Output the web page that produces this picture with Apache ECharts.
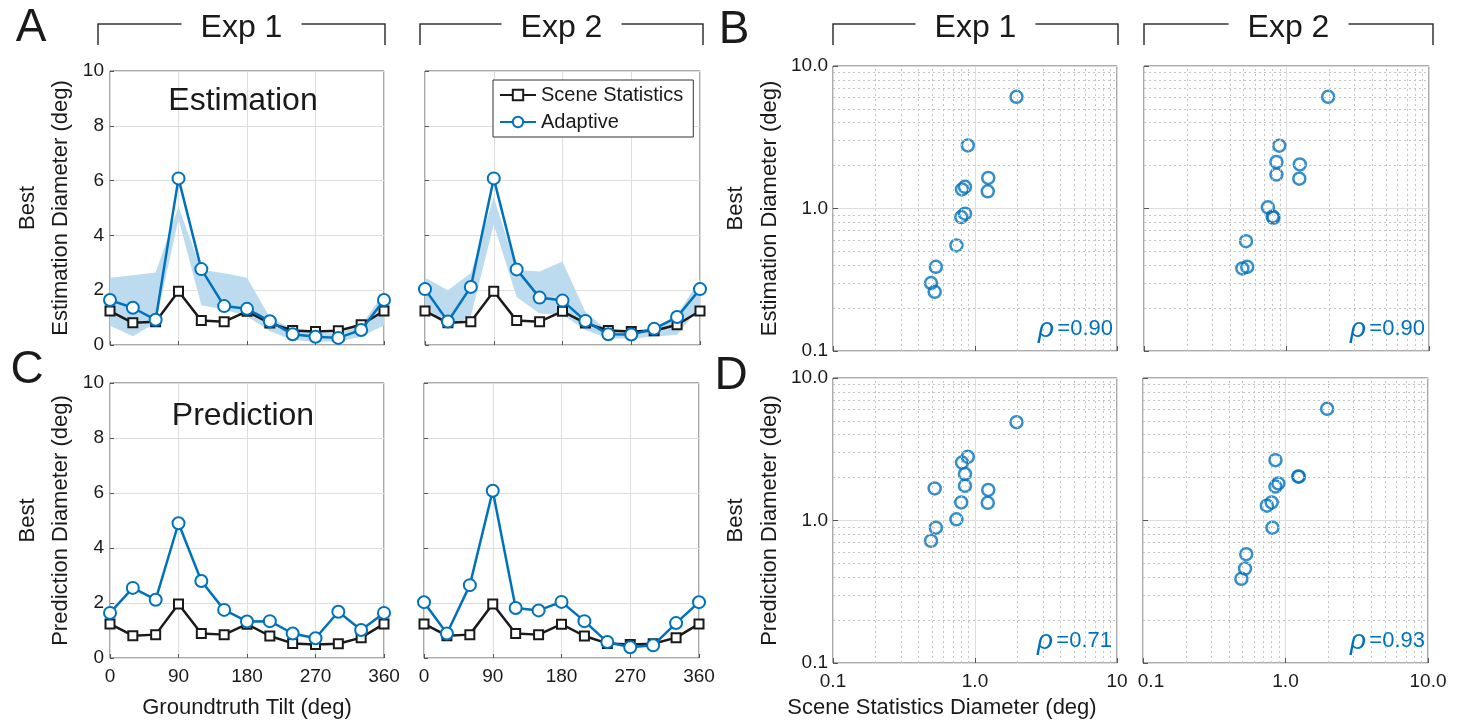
<!DOCTYPE html>
<html><head><meta charset="utf-8">
<script src="https://cdn.jsdelivr.net/npm/echarts@6/dist/echarts.min.js"></script>
<style>html,body{margin:0;padding:0;background:#fff}#c{width:1468px;height:723px}</style>
</head><body><div id="c"></div>
<script>
// ---------------- data ----------------
const tilts = [0, 30, 60, 90, 120, 150, 180, 210, 240, 270, 300, 330, 360];
const sceneStats    = [1.24, 0.81, 0.85, 1.96, 0.89, 0.85, 1.23, 0.80, 0.53, 0.49, 0.52, 0.74, 1.24];
const adaptEstExp1  = [1.64, 1.36, 0.92, 6.08, 2.77, 1.42, 1.32, 0.87, 0.39, 0.30, 0.26, 0.55, 1.64];
const adaptEstExp2  = [2.04, 0.86, 2.12, 6.08, 2.76, 1.73, 1.62, 0.88, 0.39, 0.38, 0.59, 1.02, 2.04];
const adaptPredExp1 = [1.64, 2.55, 2.12, 4.90, 2.80, 1.75, 1.33, 1.34, 0.89, 0.72, 1.68, 1.02, 1.64];
const adaptPredExp2 = [2.03, 0.89, 2.65, 6.08, 1.82, 1.73, 2.04, 1.34, 0.58, 0.39, 0.46, 1.27, 2.03];
const bandEstExp1Low  = [0.70, 0.32, 0.80, 4.60, 1.45, 1.30, 1.05, 0.50, 0.18, 0.12, 0.13, 0.30, 0.72];
const bandEstExp1High = [2.45, 2.55, 2.65, 5.05, 2.75, 2.62, 2.45, 1.00, 0.58, 0.45, 0.42, 0.72, 1.90];
const bandEstExp2Low  = [1.35, 0.62, 1.05, 4.40, 1.75, 1.15, 1.10, 0.55, 0.24, 0.24, 0.30, 0.37, 1.40];
const bandEstExp2High = [2.45, 2.00, 2.62, 5.40, 2.74, 2.68, 3.05, 1.20, 0.50, 0.52, 0.62, 1.10, 2.38];
const rhoLabels = ['0.90', '0.90', '0.71', '0.93'];
const linearXTicks = [0, 90, 180, 270, 360];
const logYLabels = ['0.1', '1.0', '10.0'];
const logXLabelsExp1 = ['0.1', '1.0', '10'];
const logXLabelsExp2 = ['0.1', '1.0', '10.0'];
const logMinorTicks = [0.2, 0.3, 0.4, 0.5, 0.6, 0.7, 0.8, 0.9, 2, 3, 4, 5, 6, 7, 8, 9];

// ---------------- style ----------------
const FONT = "'Liberation Sans', Arial, Helvetica, sans-serif";
const BLUE = '#0072BD';
const BAND = '#bddbef';
const INK = '#1a1a1a';
const GRIDC = '#dedede';

const grids = [
  {left: 110, top: 71, width: 274, height: 274},   // A exp1
  {left: 425, top: 71, width: 275, height: 274},   // A exp2
  {left: 110, top: 383, width: 274, height: 275},  // C exp1
  {left: 424, top: 383, width: 275, height: 275},  // C exp2
  {left: 833, top: 66, width: 284, height: 285},   // B exp1
  {left: 1144, top: 66, width: 285, height: 285},  // B exp2
  {left: 833, top: 378, width: 284, height: 285},  // D exp1
  {left: 1143, top: 378, width: 285, height: 285}  // D exp2
].map(g => Object.assign({show: true, borderColor: '#555', borderWidth: 1, backgroundColor: 'transparent', containLabel: false}, g));

const xAxes = [], yAxes = [], series = [];

const linePanels = [
  {g: 0, adapt: adaptEstExp1, lo: bandEstExp1Low, hi: bandEstExp1High, xl: false, yl: true, yname: 'Best\nEstimation Diameter (deg)'},
  {g: 1, adapt: adaptEstExp2, lo: bandEstExp2Low, hi: bandEstExp2High, xl: false, yl: false},
  {g: 2, adapt: adaptPredExp1, xl: true, yl: true, yname: 'Best\nPrediction Diameter (deg)'},
  {g: 3, adapt: adaptPredExp2, xl: true, yl: false}
];

function bandRenderer(lo, hi) {
  return function (params, api) {
    if (params.dataIndex !== 0) return null;
    const up = tilts.map((t, i) => api.coord([t, hi[i]]));
    const dn = tilts.map((t, i) => api.coord([t, lo[i]])).reverse();
    return {type: 'polygon', shape: {points: up.concat(dn)}, style: {fill: BAND}, silent: true};
  };
}

linePanels.forEach(p => {
  xAxes[p.g] = {
    type: 'value', gridIndex: p.g, min: 0, max: 360, interval: 90,
    axisLine: {show: false},
    axisTick: {show: true, inside: true, length: 4, lineStyle: {color: '#555'}},
    axisLabel: {show: p.xl, fontSize: 19, color: INK, fontFamily: FONT, margin: 9,
      formatter: v => linearXTicks.includes(v) ? String(v) : ''},
    splitLine: {show: true, lineStyle: {color: GRIDC, width: 1}}
  };
  yAxes[p.g] = {
    type: 'value', gridIndex: p.g, min: 0, max: 10, interval: 2,
    axisLine: {show: false},
    axisTick: {show: true, inside: true, length: 4, lineStyle: {color: '#555'}},
    axisLabel: {show: p.yl, fontSize: 19, color: INK, fontFamily: FONT, margin: 6},
    splitLine: {show: true, lineStyle: {color: GRIDC, width: 1}},
    name: p.yname || '', nameLocation: 'middle', nameRotate: 90, nameGap: 33,
    nameTextStyle: {fontSize: 22, color: INK, fontFamily: FONT, lineHeight: 33, align: 'center'}
  };
  if (p.lo) {
    series.push({
      type: 'custom', name: 'band-' + p.g, xAxisIndex: p.g, yAxisIndex: p.g,
      data: tilts.map((t, i) => [t, p.lo[i], p.hi[i]]),
      encode: {x: 0, y: [1, 2]},
      renderItem: bandRenderer(p.lo, p.hi), silent: true, z: 1
    });
  }
  series.push({
    type: 'line', name: 'Scene Statistics', xAxisIndex: p.g, yAxisIndex: p.g,
    data: tilts.map((t, i) => [t, sceneStats[i]]), clip: false,
    symbol: 'rect', symbolSize: 9,
    lineStyle: {color: INK, width: 2.5},
    itemStyle: {color: '#fff', borderColor: INK, borderWidth: 2}, z: 3
  });
  series.push({
    type: 'line', name: 'Adaptive', xAxisIndex: p.g, yAxisIndex: p.g,
    data: tilts.map((t, i) => [t, p.adapt[i]]), clip: false,
    symbol: 'circle', symbolSize: 12,
    lineStyle: {color: BLUE, width: 2.5},
    itemStyle: {color: '#fff', borderColor: BLUE, borderWidth: 2}, z: 4
  });
});

const scatterPanels = [
  {g: 4, y: adaptEstExp1, xl: null, yl: true, yname: 'Best\nEstimation Diameter (deg)'},
  {g: 5, y: adaptEstExp2, xl: null, yl: false},
  {g: 6, y: adaptPredExp1, xl: logXLabelsExp1, yl: true, yname: 'Best\nPrediction Diameter (deg)'},
  {g: 7, y: adaptPredExp2, xl: logXLabelsExp2, yl: false, shiftFirst: true}
];
const logIdx = v => Math.round(Math.log10(v)) + 1;

scatterPanels.forEach(p => {
  xAxes[p.g] = {
    type: 'log', logBase: 10, gridIndex: p.g, min: 0.1, max: 10,
    axisLine: {show: false},
    axisTick: {show: true, inside: true, length: 5, lineStyle: {color: '#555'}},
    axisLabel: {show: !!p.xl, fontSize: 19, color: INK, fontFamily: FONT, margin: 9,
      formatter: v => {
        if (!p.xl) return '';
        const k = logIdx(v);
        const s = p.xl[k] || '';
        return (p.shiftFirst && k === 0) ? '{s|' + s + '}' : s;
      },
      rich: {s: {fontSize: 19, color: INK, fontFamily: FONT, padding: [0, 0, 0, 16]}}},
    splitLine: {show: true, lineStyle: {color: GRIDC, width: 1}}
  };
  yAxes[p.g] = {
    type: 'log', logBase: 10, gridIndex: p.g, min: 0.1, max: 10,
    axisLine: {show: false},
    axisTick: {show: true, inside: true, length: 5, lineStyle: {color: '#555'}},
    axisLabel: {show: p.yl, fontSize: 19, color: INK, fontFamily: FONT, margin: 5,
      formatter: v => logYLabels[logIdx(v)] || ''},
    splitLine: {show: true, lineStyle: {color: GRIDC, width: 1}},
    name: p.yname || '', nameLocation: 'middle', nameRotate: 90, nameGap: 46,
    nameTextStyle: {fontSize: 22, color: INK, fontFamily: FONT, lineHeight: 34, align: 'center'}
  };
  const pts = [];
  for (let i = 0; i < 12; i++) pts.push([sceneStats[i], p.y[i]]);
  series.push({
    type: 'scatter', name: 'scatter-' + p.g, xAxisIndex: p.g, yAxisIndex: p.g,
    data: pts, symbol: 'circle', symbolSize: 12,
    itemStyle: {color: 'rgba(0,0,0,0)', borderColor: BLUE, borderWidth: 2.5}, z: 4,
    markLine: {
      silent: true, symbol: ['none', 'none'], label: {show: false}, animation: false,
      lineStyle: {color: '#c4c4c4', type: [2, 3], width: 1},
      emphasis: {disabled: true},
      data: logMinorTicks.map(v => ({xAxis: v})).concat(logMinorTicks.map(v => ({yAxis: v})))
    }
  });
});

// ---------------- decorations ----------------
const graphic = [];
function txt(x, y, text, size, opts) {
  graphic.push({
    type: 'text', x: x, y: y, silent: true, z: 100,
    style: Object.assign({text: text, fontSize: size, fontFamily: FONT, fill: INK,
      align: 'center', verticalAlign: 'middle'}, (opts || {}))
  });
}
function bracket(x1, x2, label) {
  const cx = (x1 + x2) / 2, gap = 60, yT = 24, yB = 45;
  graphic.push({type: 'polyline', silent: true, z: 100, shape: {points: [[x1, yB], [x1, yT], [cx - gap, yT]]},
    style: {stroke: '#333', lineWidth: 1.5, fill: null}});
  graphic.push({type: 'polyline', silent: true, z: 100, shape: {points: [[cx + gap, yT], [x2, yT], [x2, yB]]},
    style: {stroke: '#333', lineWidth: 1.5, fill: null}});
  txt(cx, 28, label, 32);
}
bracket(98, 385, 'Exp 1');
bracket(420, 703, 'Exp 2');
bracket(833, 1118, 'Exp 1');
bracket(1144, 1433, 'Exp 2');

txt(31, 28, 'A', 46);
txt(734, 30, 'B', 46);
txt(27, 370, 'C', 46);
txt(731, 376, 'D', 46);

txt(243, 101, 'Estimation', 32);
txt(243, 416, 'Prediction', 32);

txt(247, 708, 'Groundtruth Tilt (deg)', 22);
txt(942, 708, 'Scene Statistics Diameter (deg)', 22);

const rhoPos = [[1113, 329], [1425, 329], [1112, 641], [1425, 641]];
rhoPos.forEach((p, i) => {
  graphic.push({
    type: 'text', x: p[0], y: p[1], silent: true, z: 100,
    style: {
      text: '{r|ρ} {v|=' + rhoLabels[i] + '}', align: 'right', verticalAlign: 'middle',
      rich: {
        r: {fontSize: 28, fontStyle: 'italic', fill: BLUE, fontFamily: FONT},
        v: {fontSize: 22, fill: BLUE, fontFamily: FONT}
      }
    }
  });
});

const option = {
  animation: false,
  backgroundColor: '#fff',
  grid: grids,
  xAxis: xAxes,
  yAxis: yAxes,
  legend: {
    data: ['Scene Statistics', 'Adaptive'], orient: 'vertical',
    left: 493, top: 80, padding: [5, 10, 5, 6], itemGap: 7,
    itemWidth: 36, itemHeight: 13,
    borderColor: '#333', borderWidth: 1, backgroundColor: '#fff',
    textStyle: {fontSize: 20, color: INK, fontFamily: FONT},
    selectedMode: false
  },
  series: series,
  graphic: graphic
};

const chart = echarts.init(document.getElementById('c'), null, {renderer: 'canvas'});
chart.setOption(option);
</script></body></html>
